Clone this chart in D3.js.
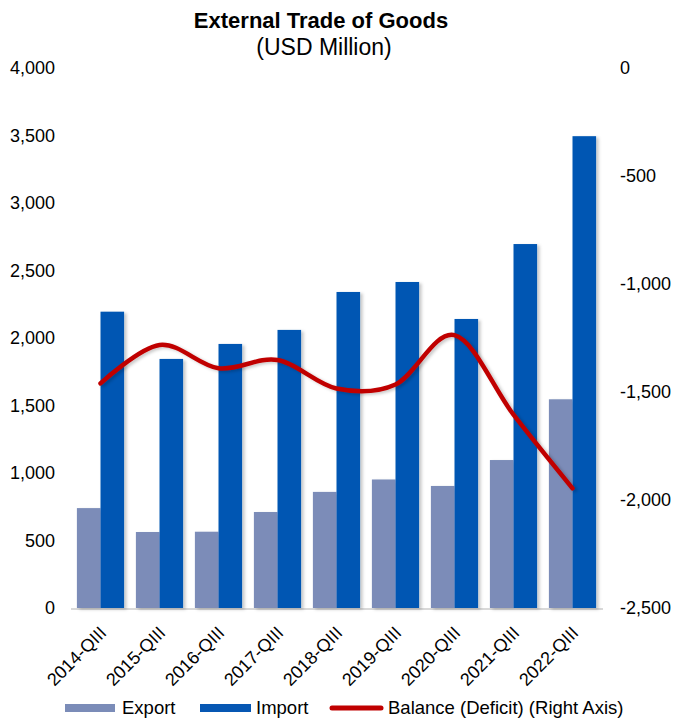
<!DOCTYPE html>
<html>
<head>
<meta charset="utf-8">
<script src="https://cdn.jsdelivr.net/npm/d3@7/dist/d3.min.js"></script>
<style>
  html, body { margin: 0; padding: 0; background: #fff; }
  svg { display: block; }
  text { font-family: "Liberation Sans", Arial, sans-serif; fill: #000; }
</style>
</head>
<body>
<svg id="chart" width="674" height="718"></svg>
<script>
const categories = ["2014-QIII","2015-QIII","2016-QIII","2017-QIII","2018-QIII","2019-QIII","2020-QIII","2021-QIII","2022-QIII"];
const exportValues = [740, 563, 565, 711, 860, 952, 904, 1096, 1546];
const importValues = [2195, 1845, 1956, 2060, 2341, 2415, 2141, 2696, 3495];
const balanceValues = [-1460, -1282, -1390, -1352, -1484, -1465, -1237, -1605, -1946];
const leftTicks = [0, 500, 1000, 1500, 2000, 2500, 3000, 3500, 4000];
const rightTicks = [0, -500, -1000, -1500, -2000, -2500];
const seriesNames = ["Export", "Import"];
const seriesColors = {Export: "#7b8cb8", Import: "#0657b3"};
const lineColor = "#c00000";

const svg = d3.select("#chart");
const defs = svg.append("defs");
const f = defs.append("filter").attr("id","shadow").attr("x","-20%").attr("y","-20%").attr("width","150%").attr("height","150%");
f.append("feDropShadow").attr("dx",2.5).attr("dy",1.5).attr("stdDeviation",1.5).attr("flood-color","#000").attr("flood-opacity",0.22);

const plotTop = 68, plotBottom = 608, plotLeft = 71, plotRight = 602;
const fmt = d => d3.format(",")(d).replace("\u2212", "-");

const x = d3.scaleBand().domain(categories).range([plotLeft, plotRight]).paddingInner(0.2).paddingOuter(0.1);
const xs = d3.scaleBand().domain(seriesNames).range([0, x.bandwidth()]);
const yL = d3.scaleLinear().domain([0, 4000]).range([plotBottom, plotTop]);
const yR = d3.scaleLinear().domain([-2500, 0]).range([plotBottom, plotTop]);

// Title
svg.append("text").attr("x", 321).attr("y", 28).attr("text-anchor","middle")
  .style("font-size","22px").style("font-weight","bold").text("External Trade of Goods");
svg.append("text").attr("x", 324).attr("y", 55).attr("text-anchor","middle")
  .style("font-size","23px").text("(USD Million)");

// Baseline
svg.append("line").attr("x1", plotLeft).attr("x2", plotRight+1).attr("y1", plotBottom+1).attr("y2", plotBottom+1)
  .attr("stroke","#d9d9d9").attr("stroke-width",2);

// Bars
const rows = categories.map((c,i) => ({cat:c, Export:exportValues[i], Import:importValues[i]}));
const g = svg.append("g").attr("filter","url(#shadow)");
rows.forEach(r => {
  seriesNames.forEach(s => {
    g.append("rect")
      .attr("x", x(r.cat) + xs(s))
      .attr("y", yL(r[s]))
      .attr("width", xs.bandwidth())
      .attr("height", yL(0) - yL(r[s]))
      .attr("fill", seriesColors[s]);
  });
});

// Balance line
const line = d3.line()
  .x((d,i) => x(categories[i]) + x.bandwidth()/2)
  .y(d => yR(d))
  .curve(d3.curveCardinal.tension(0));
svg.append("path").datum(balanceValues).attr("d", line)
  .attr("fill","none").attr("stroke", lineColor).attr("stroke-width",4.5)
  .attr("stroke-linecap","round").attr("filter","url(#shadow)");

// Left axis
const axL = svg.append("g").attr("transform", `translate(58,0)`)
  .call(d3.axisLeft(yL).tickValues(leftTicks).tickSize(0).tickPadding(3).tickFormat(fmt));
axL.select(".domain").remove();
axL.selectAll("text").style("font-size","18px").style("font-family",'"Liberation Sans", Arial, sans-serif').attr("fill","#000");

// Right axis
const axR = svg.append("g").attr("transform", `translate(617,0)`)
  .call(d3.axisRight(yR).tickValues(rightTicks).tickSize(0).tickPadding(3).tickFormat(fmt));
axR.select(".domain").remove();
axR.selectAll("text").style("font-size","18px").style("font-family",'"Liberation Sans", Arial, sans-serif').attr("fill","#000");

// X axis
const axX = svg.append("g").attr("transform", `translate(0,${plotBottom})`)
  .call(d3.axisBottom(x).tickSize(0));
axX.select(".domain").remove();
axX.selectAll("text")
  .style("font-size","18px").style("font-family",'"Liberation Sans", Arial, sans-serif').attr("fill","#000")
  .attr("text-anchor","end").attr("dy", null).attr("y", 0)
  .attr("transform","translate(7,26) rotate(-45)");

// Legend
const lg = svg.append("g");
lg.append("rect").attr("x",65).attr("y",704).attr("width",50).attr("height",8).attr("fill",seriesColors.Export);
lg.append("text").attr("x",122).attr("y",714).style("font-size","18.5px").text("Export");
lg.append("rect").attr("x",200).attr("y",704).attr("width",51).attr("height",8).attr("fill",seriesColors.Import);
lg.append("text").attr("x",256).attr("y",714).style("font-size","18.5px").text("Import");
lg.append("line").attr("x1",332).attr("x2",381).attr("y1",708).attr("y2",708)
  .attr("stroke",lineColor).attr("stroke-width",5).attr("stroke-linecap","round");
lg.append("text").attr("x",388).attr("y",714).style("font-size","18.5px").text("Balance (Deficit) (Right Axis)");
</script>
</body>
</html>
